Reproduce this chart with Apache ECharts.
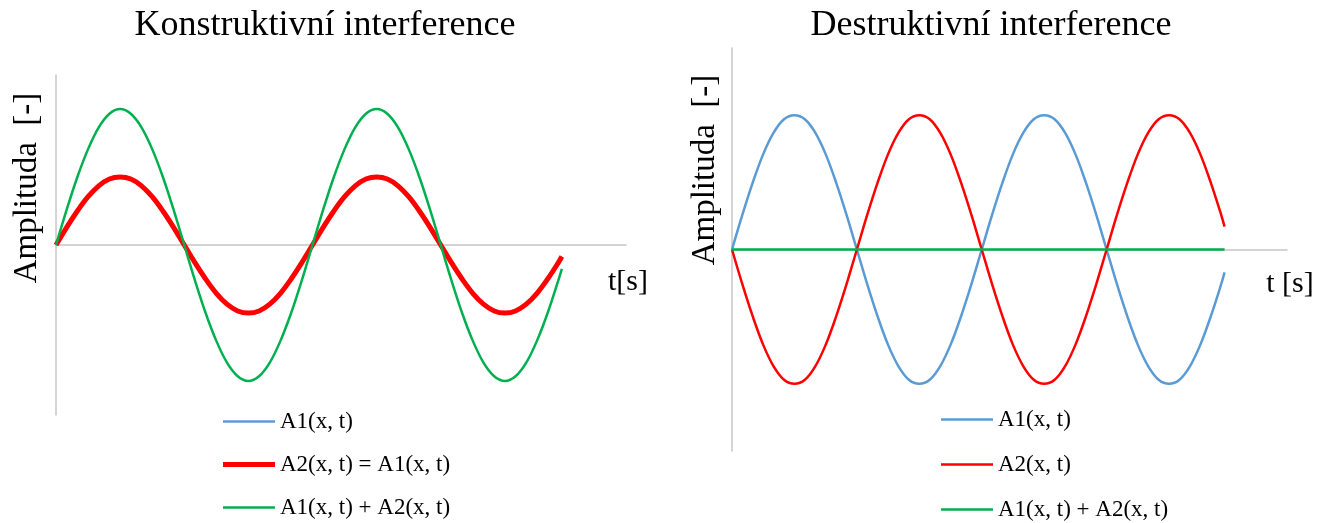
<!DOCTYPE html>
<html>
<head>
<meta charset="utf-8">
<script src="https://cdn.jsdelivr.net/npm/echarts@6/dist/echarts.min.js"></script>
<style>
  html, body { margin: 0; padding: 0; background: #fff; }
  #chart { width: 1335px; height: 523px; }
</style>
</head>
<body>
<div id="chart"></div>
<script>
// Time samples (phase in degrees, 15° steps)
const tDeg = [0, 15, 30, 45, 60, 75, 90, 105, 120, 135, 150, 165,
  180, 195, 210, 225, 240, 255, 270, 285, 300, 315, 330, 345,
  360, 375, 390, 405, 420, 435, 450, 465, 480, 495, 510, 525,
  540, 555, 570, 585, 600, 615, 630, 645, 660, 675, 690, 705, 710];

// Constructive interference
const konA1 = [0, 0.26, 0.5, 0.71, 0.87, 0.97, 1, 0.97, 0.87, 0.71, 0.5, 0.26,
  0, -0.26, -0.5, -0.71, -0.87, -0.97, -1, -0.97, -0.87, -0.71, -0.5, -0.26,
  0, 0.26, 0.5, 0.71, 0.87, 0.97, 1, 0.97, 0.87, 0.71, 0.5, 0.26,
  0, -0.26, -0.5, -0.71, -0.87, -0.97, -1, -0.97, -0.87, -0.71, -0.5, -0.26, -0.17];
const konA2 = [0, 0.26, 0.5, 0.71, 0.87, 0.97, 1, 0.97, 0.87, 0.71, 0.5, 0.26,
  0, -0.26, -0.5, -0.71, -0.87, -0.97, -1, -0.97, -0.87, -0.71, -0.5, -0.26,
  0, 0.26, 0.5, 0.71, 0.87, 0.97, 1, 0.97, 0.87, 0.71, 0.5, 0.26,
  0, -0.26, -0.5, -0.71, -0.87, -0.97, -1, -0.97, -0.87, -0.71, -0.5, -0.26, -0.17];
const konSum = [0, 0.52, 1, 1.41, 1.73, 1.93, 2, 1.93, 1.73, 1.41, 1, 0.52,
  0, -0.52, -1, -1.41, -1.73, -1.93, -2, -1.93, -1.73, -1.41, -1, -0.52,
  0, 0.52, 1, 1.41, 1.73, 1.93, 2, 1.93, 1.73, 1.41, 1, 0.52,
  0, -0.52, -1, -1.41, -1.73, -1.93, -2, -1.93, -1.73, -1.41, -1, -0.52, -0.35];

// Destructive interference
const desA1 = [0, 0.26, 0.5, 0.71, 0.87, 0.97, 1, 0.97, 0.87, 0.71, 0.5, 0.26,
  0, -0.26, -0.5, -0.71, -0.87, -0.97, -1, -0.97, -0.87, -0.71, -0.5, -0.26,
  0, 0.26, 0.5, 0.71, 0.87, 0.97, 1, 0.97, 0.87, 0.71, 0.5, 0.26,
  0, -0.26, -0.5, -0.71, -0.87, -0.97, -1, -0.97, -0.87, -0.71, -0.5, -0.26, -0.17];
const desA2 = [0, -0.26, -0.5, -0.71, -0.87, -0.97, -1, -0.97, -0.87, -0.71, -0.5, -0.26,
  0, 0.26, 0.5, 0.71, 0.87, 0.97, 1, 0.97, 0.87, 0.71, 0.5, 0.26,
  0, -0.26, -0.5, -0.71, -0.87, -0.97, -1, -0.97, -0.87, -0.71, -0.5, -0.26,
  0, 0.26, 0.5, 0.71, 0.87, 0.97, 1, 0.97, 0.87, 0.71, 0.5, 0.26, 0.17];
const desSum = [0, 0, 0, 0, 0, 0, 0, 0, 0, 0, 0, 0,
  0, 0, 0, 0, 0, 0, 0, 0, 0, 0, 0, 0,
  0, 0, 0, 0, 0, 0, 0, 0, 0, 0, 0, 0,
  0, 0, 0, 0, 0, 0, 0, 0, 0, 0, 0, 0, 0];

const titles = ['Konstruktivní interference', 'Destruktivní interference'];
const yName = 'Amplituda  [-]';
const xNames = ['t[s]', 't [s]'];
const names = {
  a1: 'A1(x, t)',
  a2eq: 'A2(x, t) = A1(x, t)',
  a2: 'A2(x, t)',
  sum: 'A1(x, t) + A2(x, t)'
};

const BLUE = '#5b9bd5', RED = '#ff0000', GREEN = '#00b050', AXIS = '#c6c6c6';
const SERIF = '"Liberation Serif", "Times New Roman", serif';
// Legend strokes: bar-shaped icons, thickness set by the path's aspect ratio
const THIN = 'path://M0,0H100V5H0Z';
const THICK = 'path://M0,0H100V10H0Z';

const pairs = vals => tDeg.map((t, i) => [t, vals[i]]);

function xAxisCfg(idx) {
  return {
    type: 'value', gridIndex: idx, min: 0, max: 800,
    axisLine: { show: true, onZero: true, lineStyle: { color: AXIS, width: 1.5 } },
    axisTick: { show: false }, axisLabel: { show: false }, splitLine: { show: false }
  };
}
function yAxisCfg(idx, lim) {
  return {
    type: 'value', gridIndex: idx, min: -lim, max: lim,
    axisLine: { show: true, lineStyle: { color: AXIS, width: 1.5 } },
    axisTick: { show: false }, axisLabel: { show: false }, splitLine: { show: false }
  };
}
function line(name, idx, vals, color, width) {
  return {
    type: 'line', name, xAxisIndex: idx, yAxisIndex: idx,
    data: pairs(vals), smooth: 0.35, showSymbol: false, symbol: 'none',
    lineStyle: { color, width }, itemStyle: { color }, z: 2
  };
}
function legendItem(name, color, icon) {
  return { name, icon, itemStyle: { color, borderWidth: 0 } };
}

const legendText = { fontFamily: SERIF, fontSize: 23, color: '#000', lineHeight: 22 };

const option = {
  animation: false,
  backgroundColor: '#fff',
  title: [
    { text: titles[0], left: 320, top: 3, textAlign: 'center',
      textStyle: { fontFamily: SERIF, fontSize: 36, fontWeight: 'normal', color: '#000' } },
    { text: titles[1], left: 986, top: 3, textAlign: 'center',
      textStyle: { fontFamily: SERIF, fontSize: 36, fontWeight: 'normal', color: '#000' } }
  ],
  grid: [
    { left: 56, top: 75, width: 570, height: 340 },
    { left: 732, top: 48, width: 555, height: 403 }
  ],
  xAxis: [xAxisCfg(0), xAxisCfg(1)],
  yAxis: [yAxisCfg(0, 2.5), yAxisCfg(1, 1.5)],
  legend: [
    { orient: 'vertical', left: 223, top: 410, height: 140, padding: 0,
      itemWidth: 52, itemHeight: 14, itemGap: 20, selectedMode: false,
      data: [legendItem(names.a1, BLUE, THIN), legendItem(names.a2eq, RED, THICK),
             legendItem(names.sum, GREEN, THIN)],
      textStyle: legendText },
    { orient: 'vertical', left: 941, top: 408, height: 140, padding: 0,
      itemWidth: 52, itemHeight: 14, itemGap: 22, selectedMode: false,
      data: [legendItem(names.a1, BLUE, THIN), legendItem(names.a2, RED, THIN),
             legendItem(names.sum, GREEN, THIN)],
      textStyle: legendText }
  ],
  series: [
    line(names.a1, 0, konA1, BLUE, 2.5),
    line(names.a2eq, 0, konA2, RED, 5),
    line(names.sum, 0, konSum, GREEN, 2.5),
    line(names.a1, 1, desA1, BLUE, 2.5),
    line(names.a2, 1, desA2, RED, 2.5),
    line(names.sum, 1, desSum, GREEN, 2.5)
  ],
  graphic: [
    { type: 'text', x: 27, y: 188, rotation: Math.PI / 2,
      style: { text: yName, font: '33px ' + SERIF, fill: '#000', align: 'center', verticalAlign: 'middle' } },
    { type: 'text', x: 705, y: 170, rotation: Math.PI / 2,
      style: { text: yName, font: '33px ' + SERIF, fill: '#000', align: 'center', verticalAlign: 'middle' } },
    { type: 'text', x: 628, y: 282,
      style: { text: xNames[0], font: '30px ' + SERIF, fill: '#000', align: 'center', verticalAlign: 'middle' } },
    { type: 'text', x: 1290, y: 284,
      style: { text: xNames[1], font: '30px ' + SERIF, fill: '#000', align: 'center', verticalAlign: 'middle' } }
  ]
};

const chart = echarts.init(document.getElementById('chart'), null, { renderer: 'canvas' });
chart.setOption(option);
</script>
</body>
</html>
